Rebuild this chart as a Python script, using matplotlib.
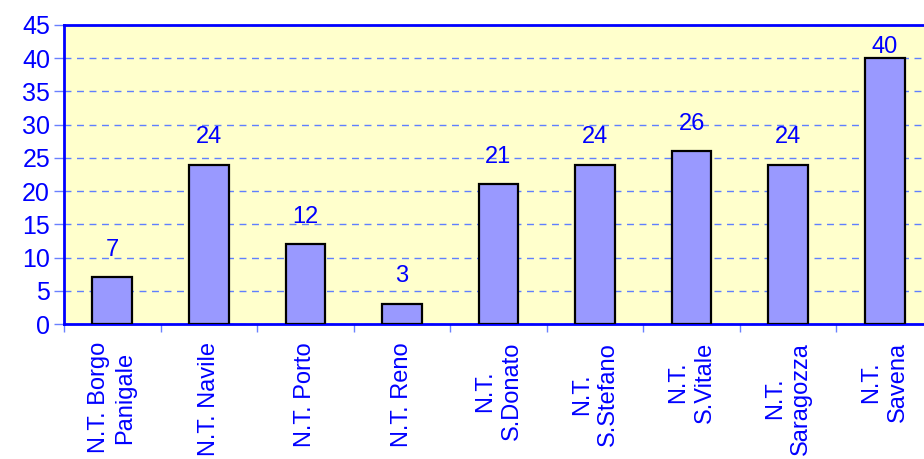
import matplotlib.pyplot as plt
import numpy as np

plt.rcParams['font.family'] = ['Liberation Sans', 'DejaVu Sans']

categories = [
    "N.T. Borgo\nPanigale",
    "N.T. Navile",
    "N.T. Porto",
    "N.T. Reno",
    "N.T.\nS.Donato",
    "N.T.\nS.Stefano",
    "N.T.\nS.Vitale",
    "N.T.\nSaragozza",
    "N.T.\nSavena",
]
values = [7, 24, 12, 3, 21, 24, 26, 24, 40]
y_ticks = [0, 5, 10, 15, 20, 25, 30, 35, 40, 45]

text_blue = "#0000FF"
fig = plt.figure(figsize=(9.24, 4.59), dpi=100)
# plot area runs slightly past the right edge, as in the original
ax = fig.add_axes([64 / 924, 135 / 459, 869 / 924, 299 / 459])
ax.set_facecolor("#FFFFCC")

x = np.arange(len(values))
ax.bar(x, values, width=0.41, color="#9999FF", edgecolor="black",
       linewidth=1.6, zorder=3)

for xi, v in zip(x, values):
    ax.text(xi, min(v + 2.5, 40.1), str(v), ha="center", va="bottom",
            fontsize=17, color=text_blue, zorder=4)

ax.set_xlim(-0.5, len(values) - 0.5)
ax.set_ylim(0, 45)
ax.set_yticks(y_ticks)
ax.set_yticklabels([str(t) for t in y_ticks], fontsize=18, color=text_blue)
ax.set_xticks(x)
ax.set_xticklabels(categories, rotation=90, fontsize=17, color=text_blue,
                   ha="center", va="top", multialignment="center",
                   linespacing=1.25)
ax.set_xticks(np.arange(-0.5, len(values)), minor=True)

ax.tick_params(axis="x", which="major", length=0, pad=13)
ax.tick_params(axis="x", which="minor", length=6, width=1, color="#6A80FF")
ax.tick_params(axis="y", length=7, width=1, color="#6A80FF", pad=3)

ax.yaxis.grid(True, linestyle=(0, (5, 4)), color="#5F7FFF", linewidth=1,
              zorder=1)
ax.set_axisbelow(True)

for side in ["left", "bottom", "top"]:
    ax.spines[side].set_color("#0000FF")
    ax.spines[side].set_linewidth(2)
ax.spines["right"].set_visible(False)

fig.savefig("out.png", dpi=100)
